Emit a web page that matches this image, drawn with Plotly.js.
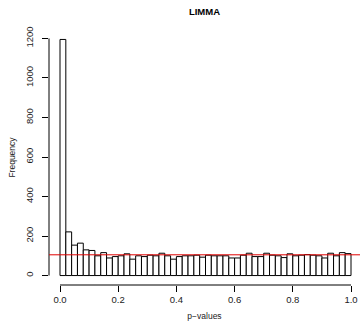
<!DOCTYPE html>
<html>
<head>
<meta charset="utf-8">
<script src="https://cdn.plot.ly/plotly-3.0.1.min.js"></script>
<style>html,body{margin:0;padding:0;background:#fff;}#chart{width:360px;height:324px;}</style>
</head>
<body>
<div id="chart"></div>
<script>
// Histogram of p-values, 50 bins of width 0.02 on [0, 1]
var binStart = 0;
var binWidth = 0.02;
var counts = [1195, 221, 154, 164, 130, 127, 100, 116, 89, 96,
              100, 110, 83, 100, 96, 103, 100, 113, 100, 83,
              96, 100, 100, 103, 93, 103, 100, 100, 100, 89,
              89, 103, 113, 96, 96, 113, 103, 100, 91, 110,
              100, 103, 106, 103, 100, 89, 113, 100, 116, 111];
var expectedLevel = 105;
var xTicks = [0, 0.2, 0.4, 0.6, 0.8, 1.0];
var xTickText = ["0.0", "0.2", "0.4", "0.6", "0.8", "1.0"];
var yTicks = [0, 200, 400, 600, 800, 1000, 1200];

var centers = counts.map(function (_, i) { return binStart + binWidth * (i + 0.5); });

var trace = {
  type: 'bar',
  x: centers,
  y: counts,
  width: binWidth,
  marker: { color: '#ffffff', line: { color: '#000000', width: 1 } },
  hoverinfo: 'x+y'
};

var fam = 'Liberation Sans, Arial, Helvetica, sans-serif';

var layout = {
  width: 360, height: 324,
  margin: { l: 49, r: 0, t: 30, b: 39, pad: 0 },
  paper_bgcolor: '#ffffff', plot_bgcolor: '#ffffff',
  showlegend: false,
  font: { family: fam, color: '#000' },
  bargap: 0,
  title: { text: '<b>LIMMA</b>', font: { family: fam, size: 9.5, color: '#000' },
           x: 0.5, xref: 'paper', y: 1 - 12 / 324, yref: 'container', yanchor: 'middle' },
  xaxis: {
    range: [-0.0378, 1.0309], showgrid: false, zeroline: false, showline: false,
    ticks: 'outside', ticklen: 6, tickwidth: 1, tickcolor: '#000',
    tickvals: xTicks, ticktext: xTickText, ticklabelstandoff: 0,
    tickfont: { family: fam, size: 9.5, color: '#222' },
    title: { text: 'p\u2212values', font: { family: fam, size: 8.5, color: '#222' }, standoff: 8 }
  },
  yaxis: {
    range: [-47.8, 1242.8], showgrid: false, zeroline: false, showline: false,
    ticks: 'outside', ticklen: 6, tickwidth: 1, tickcolor: '#000',
    tickvals: yTicks, tickangle: -90, ticklabelstandoff: 5,
    tickfont: { family: fam, size: 9.5, color: '#222' },
    title: { text: 'Frequency', font: { family: fam, size: 8.5, color: '#222' }, standoff: 7 }
  },
  shapes: [
    { type: 'line', xref: 'x', yref: 'paper', x0: xTicks[0], x1: xTicks[xTicks.length - 1], y0: 0, y1: 0,
      line: { color: '#000', width: 1 } },
    { type: 'line', xref: 'paper', yref: 'y', x0: 0, x1: 0, y0: yTicks[0], y1: yTicks[yTicks.length - 1],
      line: { color: '#000', width: 1 } },
    { type: 'line', xref: 'paper', yref: 'y', x0: 0, x1: 1, y0: expectedLevel, y1: expectedLevel,
      line: { color: '#e00000', width: 1 } }
  ]
};

Plotly.newPlot('chart', [trace], layout, { displayModeBar: false, staticPlot: true });
</script>
</body>
</html>
